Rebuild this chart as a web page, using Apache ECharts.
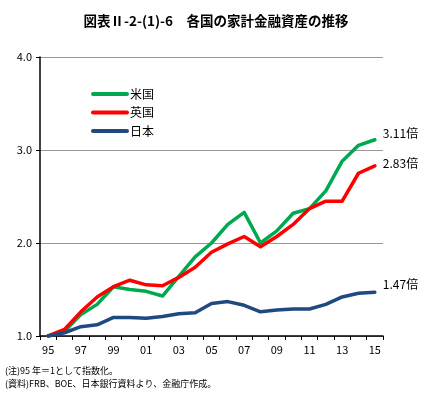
<!DOCTYPE html>
<html><head><meta charset="utf-8">
<script src="https://cdn.jsdelivr.net/npm/echarts@6/dist/echarts.min.js"></script>
<style>html,body{margin:0;padding:0;background:#fff}#c{width:426px;height:395px}</style>
</head><body><div id="c"></div>
<script>
const years = ['95','96','97','98','99','00','01','02','03','04','05','06','07','08','09','10','11','12','13','14','15'];
const usValues = [1.00,1.05,1.23,1.34,1.53,1.50,1.48,1.43,1.64,1.85,2.00,2.20,2.33,2.00,2.13,2.32,2.37,2.56,2.88,3.05,3.11];
const ukValues = [1.00,1.07,1.26,1.42,1.53,1.60,1.55,1.54,1.63,1.74,1.90,1.99,2.07,1.96,2.07,2.20,2.37,2.45,2.45,2.75,2.83];
const jpValues = [1.00,1.035,1.10,1.12,1.20,1.20,1.19,1.21,1.24,1.25,1.35,1.37,1.33,1.26,1.28,1.29,1.29,1.34,1.42,1.46,1.47];
const seriesNames = ['米国','英国','日本'];
const yTicks = [1.0, 2.0, 3.0, 4.0];
const titleText = '図表Ⅱ-2-(1)-6　各国の家計金融資産の推移';
const notes = ['(注)95 年＝1として指数化。','(資料)FRB、BOE、日本銀行資料より、金融庁作成。'];

const font = "'Noto Sans CJK JP', sans-serif";
const chart = echarts.init(document.getElementById('c'));
function mk(name, data, color, off) {
  return {
    name, type: 'line', data, symbol: 'none', smooth: false,
    lineStyle: { color, width: 3.5, cap: 'round', join: 'round' },
    itemStyle: { color },
    endLabel: { show: true, formatter: p => p.value.toFixed(2) + '倍', color: '#000',
      fontFamily: font, fontSize: 12, distance: 8, offset: off },
    animation: false
  };
}
const legendIcon = 'path://M2,0 L36,0 A2,2 0 0 1 36,4 L2,4 A2,2 0 0 1 2,0 Z';
chart.setOption({
  animation: false,
  title: { text: titleText, left: 211, textAlign: 'center', top: 9,
    textStyle: { fontFamily: font, fontSize: 13.5, fontWeight: 'bold', color: '#000' } },
  legend: { orient: 'vertical', left: 86, top: 83, itemWidth: 38, itemHeight: 14, itemGap: 6.5,
    data: seriesNames.map(n => ({ name: n, icon: legendIcon })),
    textStyle: { fontFamily: font, fontSize: 12, color: '#000', padding: [0,0,0,-4] } },
  grid: { left: 40, right: 43, top: 57, bottom: 59 },
  xAxis: { type: 'category', data: years, boundaryGap: true,
    axisLine: { lineStyle: { color: '#000', width: 1.5 } },
    axisTick: { show: true, interval: 0, length: 4, lineStyle: { color: '#000' } },
    axisLabel: { interval: 1, fontFamily: font, fontSize: 11, color: '#000', margin: 8 } },
  yAxis: { type: 'value', min: yTicks[0], max: yTicks[yTicks.length-1], interval: 1,
    axisLine: { show: true, lineStyle: { color: '#000', width: 1.5 } },
    axisTick: { show: true, inside: false, length: 4, lineStyle: { color: '#000' } },
    splitLine: { lineStyle: { color: '#999', width: 1 } },
    axisLabel: { formatter: v => v.toFixed(1), fontFamily: font, fontSize: 11, color: '#000', margin: 8 } },
  graphic: notes.map((t, i) => ({ type: 'text', left: 5, top: 366 + i * 13,
    style: { text: t, font: '9px ' + font, fill: '#000' } })),
  series: [
    mk(seriesNames[0], usValues, '#00A84F', [0, -6]),
    mk(seriesNames[1], ukValues, '#FF0000', [0, -2]),
    mk(seriesNames[2], jpValues, '#1F4A7F', [0, -8])
  ]
});
</script></body></html>
